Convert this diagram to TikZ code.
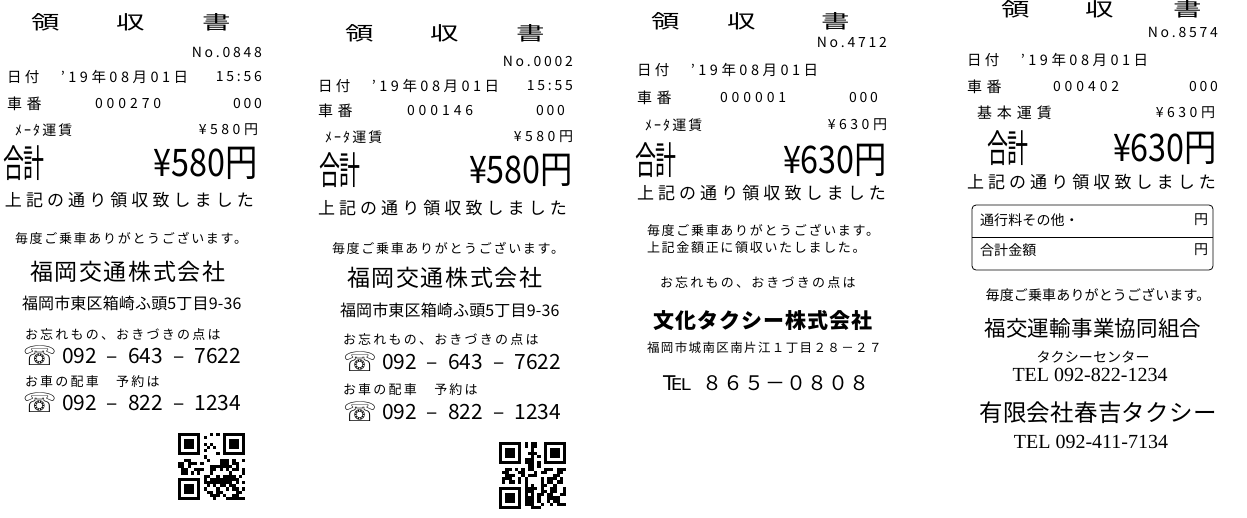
\documentclass[tikz,border=0pt]{standalone}
\usepackage{fontspec}
\usetikzlibrary{positioning}
\newfontfamily\jp{Noto Sans CJK JP}
\newfontfamily\jptitle[FakeStretch=1.5]{Noto Sans CJK JP}
\newfontfamily\jpwide[FakeStretch=0.85]{Noto Sans CJK JP}
\newfontfamily\jpnarrow[FakeStretch=0.55]{Noto Sans CJK JP}
\newfontfamily\symb{DejaVu Sans}
\newfontfamily\tnr{Liberation Serif}
\newcommand\strich{\hspace{10pt}–\hspace{10pt}}

\tikzset{
  every node/.style={inner sep=0pt, outer sep=0pt},
  prt/.style 2 args={font={\fontsize{#1}{#1}\selectfont\jp\addfontfeature{LetterSpace=#2}}},
  titel/.style={font={\fontsize{19}{19}\selectfont\jptitle}},
  summe/.style={font={\fontsize{38}{38}\selectfont\jpnarrow}},
  betrag/.style={font={\fontsize{38}{38}\selectfont\jpwide}},
  telefon/.style={font={\fontsize{27}{27}\selectfont\symb}},
  nummer/.style={font={\fontsize{21}{21}\selectfont\jp}},
  serif/.style={font={\fontsize{#1}{#1}\selectfont\tnr}},
  qr/.pic={
    \foreach \cx/\cy in {0/0,14/0,0/14}{
      \fill (\cx*3.2,\cy*3.2) rectangle ++(22.4,22.4);
      \fill[white] (\cx*3.2+3.2,\cy*3.2+3.2) rectangle ++(16,16);
      \fill (\cx*3.2+6.4,\cy*3.2+6.4) rectangle ++(9.6,9.6);
    }
    \foreach \i in {0,...,20}{
      \foreach \j in {0,...,20}{
        \pgfmathtruncatemacro\qrskip{(\i<8 && \j<8) || (\i>12 && \j<8) || (\i<8 && \j>12)}
        \pgfmathtruncatemacro\qrdark{rnd<0.5}
        \ifnum\qrskip=0 \ifnum\qrdark=1 \fill (\i*3.2,\j*3.2) rectangle ++(3.2,3.2); \fi\fi
      }
    }
  }
}

\begin{document}
\begin{tikzpicture}[x=1pt, y=-1pt]
  \pgfmathsetseed{17}
  \fill[white] (0,0) rectangle (1247,517);
  \useasboundingbox (0,0) rectangle (1247,517);

  % receipt 1
  \node[titel] (r1title) at (131,22) {領\hspace{57pt}収\hspace{57pt}書};
  \node[prt={14}{20}, anchor=east] (r1no) at (262,52) {No.0848};
  \node[prt={14.5}{24}, anchor=west] (r1date) at (7,77) {日付　’19年08月01日};
  \node[prt={14}{20}, anchor=east] (r1time) at (262,77) {15:56};
  \node[prt={15}{30}, anchor=west] (r1car) at (7,104) {車番};
  \node[prt={14}{28}, anchor=west] (r1carno) at (95,104) {000270};
  \node[prt={14}{20}, anchor=east] (r1carsub) at (262,104) {000};
  \node[prt={14}{15}, anchor=west] (r1fare) at (15,130) {ﾒｰﾀ運賃};
  \node[prt={14}{25}, anchor=east] (r1fareval) at (258,130) {¥580円};
  \node[summe, anchor=west] (r1sum) at (3,163) {合計};
  \node[betrag, anchor=east] (r1sumval) at (258,163) {¥580円};
  \node[prt={17}{24}, anchor=west] (r1recv) at (5,200) {上記の通り領収致しました};
  \node[prt={13}{13}, anchor=west] (r1thanks) at (15,238) {毎度ご乗車ありがとうございます。};
  \node[prt={23}{7}, anchor=west] (r1firm) at (30,272) {福岡交通株式会社};
  \node[prt={16}{1}, anchor=west] (r1addr) at (22,303) {福岡市東区箱崎ふ頭5丁目9-36};
  \node[prt={13}{17}, anchor=west] (r1lost) at (25,335) {お忘れもの、おきづきの点は};
  \node[telefon, anchor=west] (r1icon1) at (23,356) {☏};
  \node[nummer, anchor=west] (r1tel1) at (62,356) {092\strich 643\strich 7622};
  \node[prt={13}{17}, anchor=west] (r1book) at (25,382) {お車の配車　予約は};
  \node[telefon, anchor=west] (r1icon2) at (23,403) {☏};
  \node[nummer, anchor=west] (r1tel2) at (62,403) {092\strich 822\strich 1234};
  \pic at (178,433) {qr};

  % receipt 2
  \node[titel] (r2title) at (445,33) {領\hspace{57pt}収\hspace{57pt}書};
  \node[prt={14}{20}, anchor=east] (r2no) at (573,61) {No.0002};
  \node[prt={14.5}{24}, anchor=west] (r2date) at (318,86) {日付　’19年08月01日};
  \node[prt={14}{20}, anchor=east] (r2time) at (573,86) {15:55};
  \node[prt={15}{30}, anchor=west] (r2car) at (318,111) {車番};
  \node[prt={14}{28}, anchor=west] (r2carno) at (407,111) {000146};
  \node[prt={14}{20}, anchor=east] (r2carsub) at (565,111) {000};
  \node[prt={14}{15}, anchor=west] (r2fare) at (325,137) {ﾒｰﾀ運賃};
  \node[prt={14}{25}, anchor=east] (r2fareval) at (573,137) {¥580円};
  \node[summe, anchor=west] (r2sum) at (319,170) {合計};
  \node[betrag, anchor=east] (r2sumval) at (573,170) {¥580円};
  \node[prt={17}{24}, anchor=west] (r2recv) at (318,208) {上記の通り領収致しました};
  \node[prt={13}{13}, anchor=west] (r2thanks) at (332,248) {毎度ご乗車ありがとうございます。};
  \node[prt={23}{7}, anchor=west] (r2firm) at (347,278) {福岡交通株式会社};
  \node[prt={16}{1}, anchor=west] (r2addr) at (340,310) {福岡市東区箱崎ふ頭5丁目9-36};
  \node[prt={13}{17}, anchor=west] (r2lost) at (343,340) {お忘れもの、おきづきの点は};
  \node[telefon, anchor=west] (r2icon1) at (343,362) {☏};
  \node[nummer, anchor=west] (r2tel1) at (382,362) {092\strich 643\strich 7622};
  \node[prt={13}{17}, anchor=west] (r2book) at (343,390) {お車の配車　予約は};
  \node[telefon, anchor=west] (r2icon2) at (343,412) {☏};
  \node[nummer, anchor=west] (r2tel2) at (382,412) {092\strich 822\strich 1234};
  \pic at (499,442) {qr};

  % receipt 3
  \node[titel] (r3title) at (751,21) {領\hspace{47pt}収\hspace{66pt}書};
  \node[prt={14}{20}, anchor=east] (r3no) at (887,42) {No.4712};
  \node[prt={14.5}{24}, anchor=west] (r3date) at (637,70) {日付　’19年08月01日};
  \node[prt={15}{30}, anchor=west] (r3car) at (637,98) {車番};
  \node[prt={14}{28}, anchor=west] (r3carno) at (720,98) {000001};
  \node[prt={14}{20}, anchor=east] (r3carsub) at (878,98) {000};
  \node[prt={14}{15}, anchor=west] (r3fare) at (645,125) {ﾒｰﾀ運賃};
  \node[prt={14}{25}, anchor=east] (r3fareval) at (887,125) {¥630円};
  \node[summe, anchor=west] (r3sum) at (635,160) {合計};
  \node[betrag, anchor=east] (r3sumval) at (887,160) {¥630円};
  \node[prt={17}{24}, anchor=west] (r3recv) at (637,193) {上記の通り領収致しました};
  \node[prt={13}{13}, anchor=west] (r3thanks) at (647,230) {毎度ご乗車ありがとうございます。};
  \node[prt={13}{13}, anchor=west] (r3recv2) at (647,248) {上記金額正に領収いたしました。};
  \node[prt={13}{17}, anchor=west] (r3lost) at (660,283) {お忘れもの、おきづきの点は};
  \node[font={\fontsize{21}{21}\selectfont\jp\bfseries\addfontfeature{LetterSpace=5}}, anchor=west] (r3firm) at (653,321) {文化タクシー株式会社};
  \node[prt={12.5}{11}, anchor=west] (r3addr) at (647,348) {福岡市城南区南片江１丁目２８－２７};
  \node[telefon, anchor=west] (r3icon) at (663,383) {℡};
  \node[prt={20}{5}, anchor=west] (r3tel) at (702,383) {８６５－０８０８};

  % receipt 4
  \node[titel] (r4title) at (1102,9) {領\hspace{55pt}収\hspace{60pt}書};
  \node[prt={14}{20}, anchor=east] (r4no) at (1218,32) {No.8574};
  \node[prt={14.5}{24}, anchor=west] (r4date) at (967,60) {日付　’19年08月01日};
  \node[prt={15}{30}, anchor=west] (r4car) at (967,87) {車番};
  \node[prt={14}{28}, anchor=west] (r4carno) at (1053,87) {000402};
  \node[prt={14}{20}, anchor=east] (r4carsub) at (1218,87) {000};
  \node[prt={15}{33}, anchor=west] (r4fare) at (977,113) {基本運賃};
  \node[prt={14}{25}, anchor=east] (r4fareval) at (1215,113) {¥630円};
  \node[summe, anchor=west] (r4sum) at (987,148) {合計};
  \node[betrag, anchor=east] (r4sumval) at (1217,148) {¥630円};
  \node[prt={17}{24}, anchor=west] (r4recv) at (967,182) {上記の通り領収致しました};
  \draw[line width=0.8pt, rounded corners=4pt] (972,205) rectangle (1213,270);
  \draw[line width=0.8pt] (972,237) -- (1213,237);
  \node[prt={14}{1}, anchor=west] (r4toll) at (980,220) {通行料その他・};
  \node[prt={14}{1}, anchor=east] (r4tollyen) at (1208,220) {円};
  \node[prt={14}{1}, anchor=west] (r4total) at (980,250) {合計金額};
  \node[prt={14}{1}, anchor=east] (r4totalyen) at (1208,250) {円};
  \node[prt={14}{1}] (r4thanks) at (1098,295) {毎度ご乗車ありがとうございます。};
  \node[prt={21.5}{1}] (r4union) at (1093,328) {福交運輸事業協同組合};
  \node[prt={14}{1}] (r4center) at (1093,357) {タクシーセンター};
  \node[serif=20] (r4tel1) at (1090,375) {TEL 092-822-1234};
  \node[prt={23.5}{1}] (r4firm) at (1098,413) {有限会社春吉タクシー};
  \node[serif=20] (r4tel2) at (1091,442) {TEL 092-411-7134};
\end{tikzpicture}
\end{document}
